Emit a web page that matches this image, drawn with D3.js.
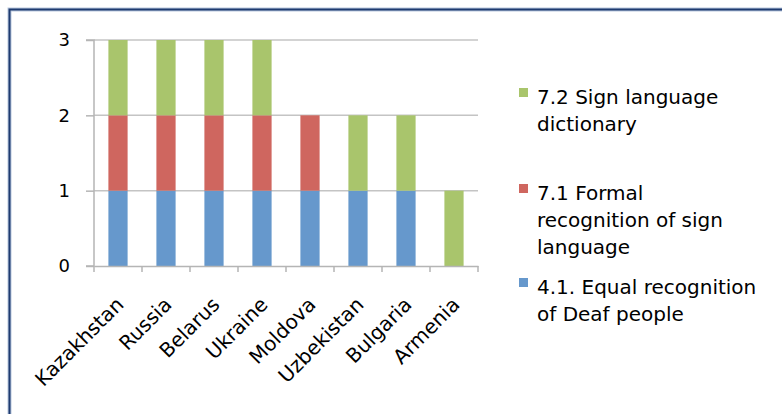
<!DOCTYPE html>
<html>
<head>
<meta charset="utf-8">
<script src="https://cdn.jsdelivr.net/npm/d3@7"></script>
<style>
html,body{margin:0;padding:0;background:#fff;}
svg{display:block;}
</style>
</head>
<body>
<svg id="chart" width="782" height="414"></svg>
<script>
const categories = ["Kazakhstan","Russia","Belarus","Ukraine","Moldova","Uzbekistan","Bulgaria","Armenia"];
const seriesNames = ["4.1. Equal recognition of Deaf people","7.1 Formal recognition of sign language","7.2 Sign language dictionary"];
const equalRecognition = [1,1,1,1,1,1,1,0];
const formalRecognition = [1,1,1,1,1,0,0,0];
const signDictionary = [1,1,1,1,0,1,1,1];
const seriesColors = ["#6698cc","#cf665f","#a9c56c"];
const yTicks = [0,1,2,3];
const legendLines = [
  ["7.2 Sign language","dictionary"],
  ["7.1 Formal","recognition of sign","language"],
  ["4.1. Equal recognition","of Deaf people"]
];

(function(){
const svg = d3.select("#chart");
const font = "'DejaVu Sans', sans-serif";

// frame
svg.append("path").attr("d","M9.5,414 L9.5,9.5 L782,9.5")
  .attr("fill","none").attr("stroke","#b9c8de").attr("stroke-width",4);
svg.append("path").attr("d","M9.5,414 L9.5,9.5 L782,9.5")
  .attr("fill","none").attr("stroke","#1f3b70").attr("stroke-width",2);

const pLeft = 94, pRight = 478, pTop = 40, pBottom = 266;
const x = d3.scaleBand().domain(categories).range([pLeft,pRight]).paddingInner(0.6).paddingOuter(0.3);
const xb = d3.scaleBand().domain(categories).range([pLeft,pRight]);
const y = d3.scaleLinear().domain([0,3]).range([pBottom,pTop]);

// gridlines
svg.append("g").selectAll("line").data(yTicks.filter(d=>d>0)).join("line")
  .attr("x1",pLeft).attr("x2",pRight).attr("y1",d=>y(d)).attr("y2",d=>y(d))
  .attr("stroke","#c4c4c4").attr("stroke-width",1.5);

// stacked data
const rows = categories.map((c,i)=>({cat:c, a:equalRecognition[i], b:formalRecognition[i], c:signDictionary[i]}));
const stack = d3.stack().keys(["a","b","c"]);
const layers = stack(rows);

svg.append("g").selectAll("g").data(layers).join("g")
  .attr("fill",(d,i)=>seriesColors[i])
  .selectAll("rect").data(d=>d).join("rect")
  .attr("x",d=>x(d.data.cat))
  .attr("width",x.bandwidth())
  .attr("y",d=>y(d[1]))
  .attr("height",d=>y(d[0])-y(d[1]));

// y axis
const yAxis = d3.axisLeft(y).tickValues(yTicks).tickFormat(d3.format("d")).tickSize(8).tickPadding(16);
const gy = svg.append("g").attr("transform",`translate(${pLeft},0)`).call(yAxis);
gy.select(".domain").attr("stroke","#b5b5b5").attr("stroke-width",1.5).attr("d",`M-8,${pTop}H0V${pBottom}H-8`);
gy.selectAll(".tick line").attr("stroke","#b5b5b5").attr("stroke-width",1.5);
gy.selectAll(".tick text").attr("font-family",font).attr("font-size",18).attr("fill","#000");

// x axis
const xAxis = d3.axisBottom(xb).tickSize(0).tickFormat("");
const gx = svg.append("g").attr("transform",`translate(0,${pBottom})`).call(xAxis);
gx.select(".domain").attr("stroke","#b5b5b5").attr("stroke-width",1.5);
gx.selectAll(".tick").remove();
const bounds = categories.map(c=>xb(c)).concat([pRight]);
gx.selectAll("line.tk").data(bounds).join("line").attr("class","tk")
  .attr("x1",d=>d).attr("x2",d=>d).attr("y1",0).attr("y2",6)
  .attr("stroke","#b5b5b5").attr("stroke-width",1.5);

svg.append("g").selectAll("text").data(categories).join("text")
  .attr("transform",d=>`translate(${xb(d)+xb.bandwidth()/2-3},${pBottom+30}) rotate(-45)`)
  .attr("text-anchor","end")
  .attr("dy","0.7em")
  .attr("font-family",font).attr("font-size",20).attr("fill","#000")
  .text(d=>d);

// legend
const legendSquares = [88,184,278];
const legendColors = [seriesColors[2],seriesColors[1],seriesColors[0]];
const lg = svg.append("g");
legendLines.forEach((lines,i)=>{
  lg.append("rect").attr("x",519).attr("y",legendSquares[i]).attr("width",9).attr("height",9).attr("fill",legendColors[i]);
  lines.forEach((t,j)=>{
    lg.append("text").attr("x",537).attr("y",legendSquares[i]+16+j*27)
      .attr("font-family",font).attr("font-size",20).attr("fill","#000").text(t);
  });
});
})();
</script>
</body>
</html>
